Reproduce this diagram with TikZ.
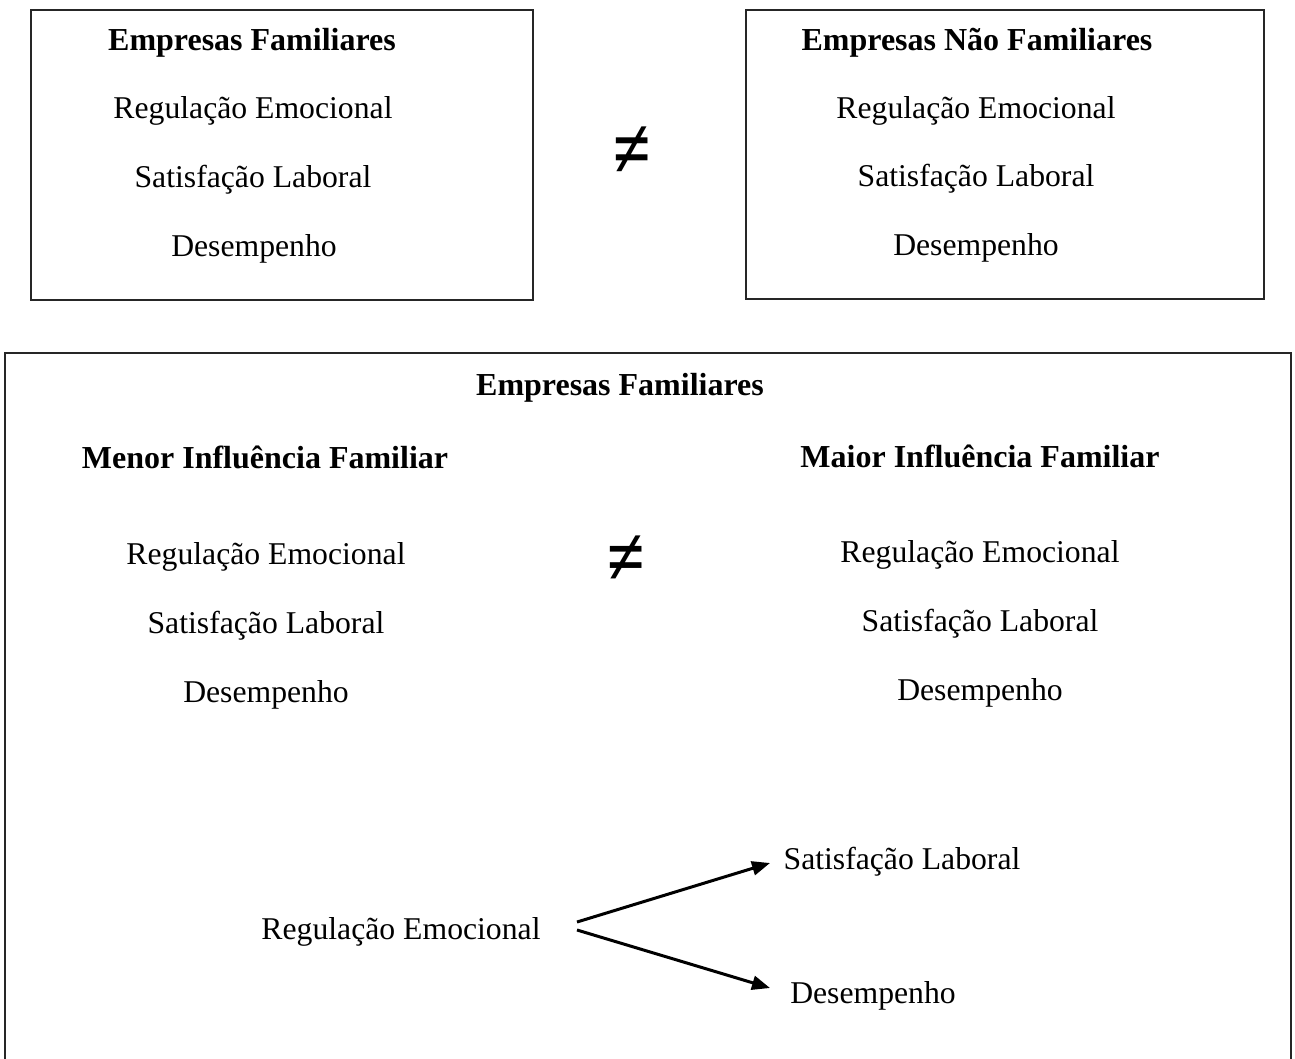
\documentclass[tikz,border=0pt]{standalone}
\usepackage{fontspec}
\setmainfont{Liberation Serif}
\usetikzlibrary{arrows.meta}
\begin{document}
\begin{tikzpicture}[x=1pt,y=-1pt,
  frame/.style={draw=black!85,line width=2pt},
  txt/.style={anchor=base,inner sep=0pt,font=\fontsize{31.7}{38}\selectfont},
  ttl/.style={anchor=base,inner sep=0pt,font=\fontsize{32}{38}\selectfont\bfseries},
  neq/.style={inner sep=0pt,font=\fontsize{68}{76}\selectfont\bfseries},
  arr/.style={line width=3pt,-{Triangle[length=18pt,width=14pt]}}]
\useasboundingbox (0,0) rectangle (1295,1059);
% frames
\draw[frame] (30.5,10) rectangle (532.7,299.5);
\draw[frame] (745.5,10) rectangle (1264,299);
\draw[frame] (4.7,1059) -- (4.7,352.7) -- (1290.7,352.7) -- (1290.7,1059);
% top-left
\node[ttl] (tl0) at (252,51) {Empresas Familiares};
\node[txt] (tl1) at (253,119) {Regulação Emocional};
\node[txt] (tl2) at (253,188) {Satisfação Laboral};
\node[txt] (tl3) at (254,257) {Desempenho};
% top-right
\node[ttl] (tr0) at (977,51) {Empresas Não Familiares};
\node[txt] (tr1) at (976,119) {Regulação Emocional};
\node[txt] (tr2) at (976,187) {Satisfação Laboral};
\node[txt] (tr3) at (976,256) {Desempenho};
\node[neq] (ne1) at (632,152) {\scalebox{1}[1.25]{≠}};
% bottom
\node[ttl] (b0) at (620,395) {Empresas Familiares};
\node[ttl] (bl0) at (265,468) {Menor Influência Familiar};
\node[txt] (bl1) at (266,564) {Regulação Emocional};
\node[txt] (bl2) at (266,633) {Satisfação Laboral};
\node[txt] (bl3) at (266,702) {Desempenho};
\node[ttl] (br0) at (980,467) {Maior Influência Familiar};
\node[txt] (br1) at (980,562) {Regulação Emocional};
\node[txt] (br2) at (980,631) {Satisfação Laboral};
\node[txt] (br3) at (980,700) {Desempenho};
\node[neq] (ne2) at (626,560) {\scalebox{1}[1.2]{≠}};
% relations
\node[txt] (reg) at (401,939) {Regulação Emocional};
\node[txt] (sat) at (902,869) {Satisfação Laboral};
\node[txt] (des) at (873,1003) {Desempenho};
\coordinate (s1) at (577,922);
\coordinate (s2) at (577,930);
\coordinate (t1) at (770,863);
\coordinate (t2) at (770,988);
\draw[arr] (s1) -- (t1);
\draw[arr] (s2) -- (t2);
\end{tikzpicture}
\end{document}
